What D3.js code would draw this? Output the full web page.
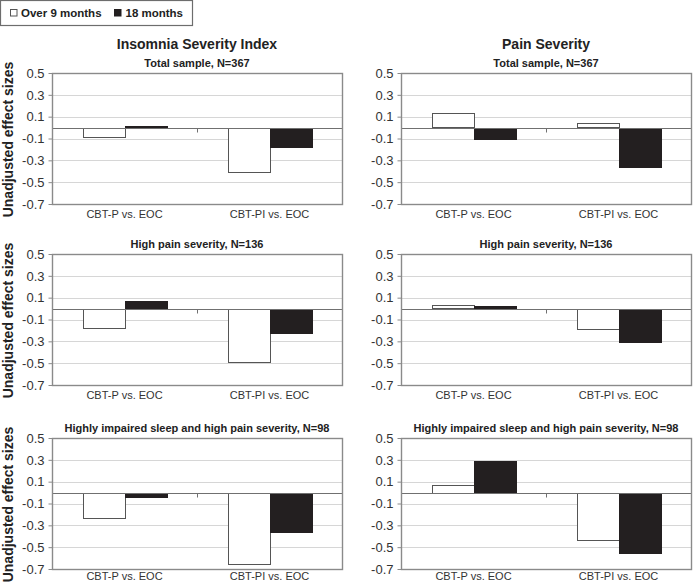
<!DOCTYPE html>
<html>
<head>
<meta charset="utf-8">
<script src="https://cdn.jsdelivr.net/npm/d3@7"></script>
<style>
  html, body { margin: 0; padding: 0; background: #fff; }
  svg { display: block; font-family: "Liberation Sans", Arial, sans-serif; }
</style>
</head>
<body>
<svg id="chart" width="693" height="582"></svg>
<script>
// ---------- data ----------
const categories = ["CBT-P vs. EOC", "CBT-PI vs. EOC"];
const seriesNames = ["Over 9 months", "18 months"];
const yTicks = [0.5, 0.3, 0.1, -0.1, -0.3, -0.5, -0.7];
const yTickLabels = ["0.5", "0.3", "0.1", "-0.1", "-0.3", "-0.5", "-0.7"];
const columnTitles = ["Insomnia Severity Index", "Pain Severity"];
const rowTitles = ["Total sample, N=367", "High pain severity, N=136", "Highly impaired sleep and high pain severity, N=98"];
const yAxisTitle = "Unadjusted effect sizes";

// Insomnia Severity Index
const isiTotal9  = [-0.08, -0.40];
const isiTotal18 = [0.01, -0.17];
const isiHigh9   = [-0.17, -0.49];
const isiHigh18  = [0.07, -0.22];
const isiImp9    = [-0.23, -0.65];
const isiImp18   = [-0.04, -0.36];
// Pain Severity
const painTotal9  = [0.13, 0.04];
const painTotal18 = [-0.10, -0.36];
const painHigh9   = [0.03, -0.18];
const painHigh18  = [0.02, -0.30];
const painImp9    = [0.07, -0.43];
const painImp18   = [0.29, -0.55];

const panelData = [
  [[isiTotal9, isiTotal18], [painTotal9, painTotal18]],
  [[isiHigh9, isiHigh18], [painHigh9, painHigh18]],
  [[isiImp9, isiImp18], [painImp9, painImp18]]
];

// ---------- layout ----------
const colX = [52, 401];
const plotW = 290;
const rowY = [73, 254, 438];
const plotH = 131;
const fills = ["#ffffff", "#231f20"];
const strokes = ["#555555", "#231f20"];

const svg = d3.select("#chart");

// legend
const lg = svg.append("g");
lg.append("rect").attr("x", 0.5).attr("y", 0.5).attr("width", 192).attr("height", 25)
  .attr("fill", "#fff").attr("stroke", "#6d6d6d").attr("stroke-width", 1.2);
const legendPos = [{sx: 10, tx: 21}, {sx: 114, tx: 125.5}];
seriesNames.forEach((s, i) => {
  lg.append("rect").attr("x", legendPos[i].sx + 0.5).attr("y", 9.5).attr("width", 6.5).attr("height", 6.5)
    .attr("fill", fills[i]).attr("stroke", strokes[i]).attr("stroke-width", 1);
  lg.append("text").attr("x", legendPos[i].tx).attr("y", 16.8)
    .attr("font-size", 11.5).attr("font-weight", "bold").attr("fill", "#222").text(s);
});

// column titles
columnTitles.forEach((t, c) => {
  svg.append("text").attr("x", colX[c] + plotW / 2).attr("y", 48.5)
    .attr("text-anchor", "middle").attr("font-size", 14).attr("font-weight", "bold")
    .attr("fill", "#222").text(t);
});

rowTitles.forEach((rt, r) => {
  const y0 = rowY[r];
  const y = d3.scaleLinear().domain([-0.7, 0.5]).range([y0 + plotH, y0]);

  // y-axis title
  svg.append("text")
    .attr("transform", `translate(12.5,${y0 + plotH / 2 + 1}) rotate(-90)`)
    .attr("text-anchor", "middle").attr("font-size", 14).attr("font-weight", "bold")
    .attr("fill", "#222").text(yAxisTitle);

  [0, 1].forEach(c => {
    const x0p = colX[c];
    const g = svg.append("g");
    const x0 = d3.scaleBand().domain(categories).range([x0p, x0p + plotW])
      .paddingInner(0.423).paddingOuter(0.2115);
    const x1 = d3.scaleBand().domain(seriesNames).range([0, x0.bandwidth()]);

    // subtitle
    g.append("text").attr("x", x0p + plotW / 2).attr("y", y0 - 6)
      .attr("text-anchor", "middle").attr("font-size", 11).attr("font-weight", "bold")
      .attr("fill", "#222").text(rt);

    // gridlines
    g.selectAll("line.grid").data(yTicks).join("line").attr("class", "grid")
      .attr("x1", x0p).attr("x2", x0p + plotW)
      .attr("y1", d => Math.round(y(d)) + 0.5).attr("y2", d => Math.round(y(d)) + 0.5)
      .attr("stroke", "#d6d6d6").attr("stroke-width", 1);

    // bars
    const series = panelData[r][c];
    seriesNames.forEach((s, si) => {
      g.selectAll(null).data(categories.map((cat, ci) => ({cat, v: series[si][ci]})))
        .join("rect")
        .attr("x", d => Math.round(x0(d.cat) + x1(s)) + 0.5)
        .attr("width", Math.round(x1.bandwidth()))
        .attr("y", d => Math.round(y(Math.max(0, d.v))) + 0.5)
        .attr("height", d => Math.max(1, Math.round(Math.abs(y(d.v) - y(0)))))
        .attr("fill", fills[si]).attr("stroke", strokes[si]).attr("stroke-width", 1);
    });

    // zero line
    const yz = Math.round(y(0)) + 0.5;
    g.append("line").attr("x1", x0p).attr("x2", x0p + plotW).attr("y1", yz).attr("y2", yz)
      .attr("stroke", "#707070").attr("stroke-width", 1.2);
    // category boundary tick
    const mid = Math.round(x0p + plotW / 2) + 0.5;
    g.append("line").attr("x1", mid).attr("x2", mid).attr("y1", yz).attr("y2", yz + 4)
      .attr("stroke", "#707070").attr("stroke-width", 1);

    // border
    g.append("rect").attr("x", x0p + 0.5).attr("y", y0 + 0.5).attr("width", plotW).attr("height", plotH)
      .attr("fill", "none").attr("stroke", "#8a8a8a").attr("stroke-width", 1.4);

    // y axis
    const ax = g.append("g").attr("transform", `translate(${x0p + 0.5},0)`)
      .call(d3.axisLeft(y).tickValues(yTicks).tickFormat((d, i) => yTickLabels[i]).tickSize(4).tickPadding(4));
    ax.select(".domain").remove();
    ax.selectAll(".tick line").attr("stroke", "#8a8a8a");
    ax.selectAll(".tick text").attr("font-size", 13).attr("fill", "#333")
      .attr("font-family", "Liberation Sans, Arial, sans-serif");

    // category labels
    g.selectAll("text.cat").data(categories).join("text").attr("class", "cat")
      .attr("x", d => x0(d) + x0.bandwidth() / 2).attr("y", Math.min(y0 + plotH + 13.5, 579.5))
      .attr("text-anchor", "middle").attr("font-size", 11).attr("fill", "#333").text(d => d);
  });
});
</script>
</body>
</html>
